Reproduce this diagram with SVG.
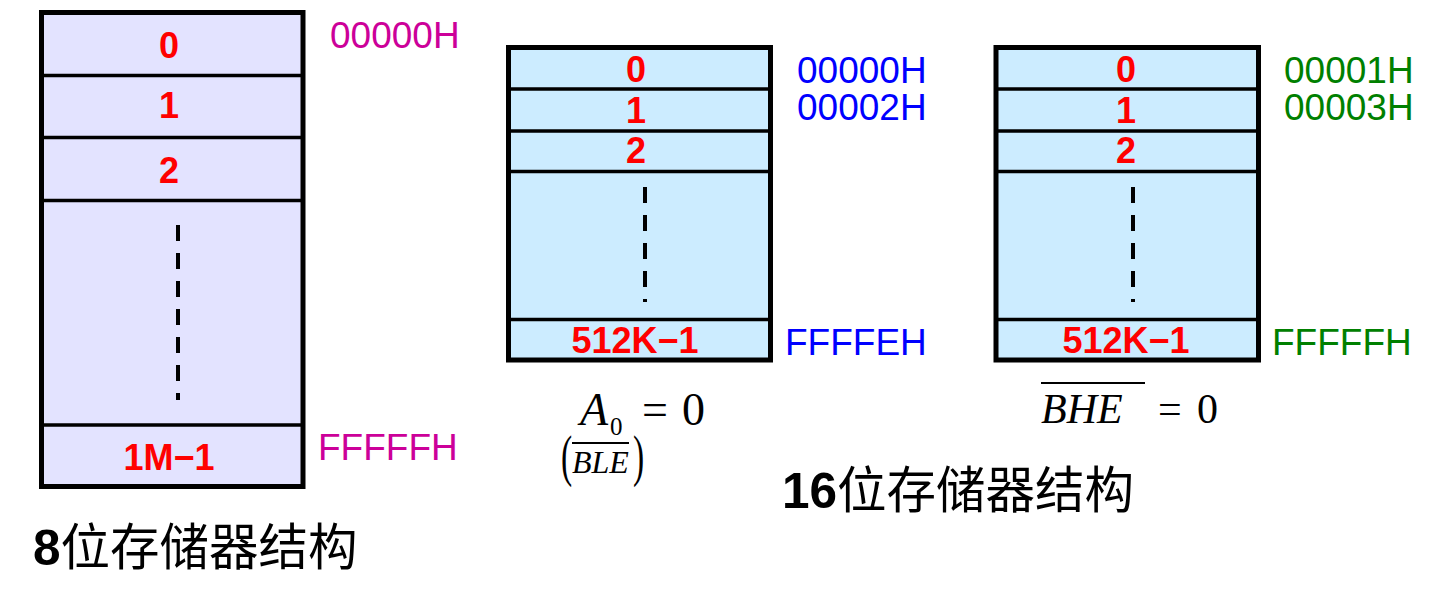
<svg xmlns="http://www.w3.org/2000/svg" width="1438" height="610" viewBox="0 0 1438 610">
<style>
.box{stroke:#000;stroke-width:5}
.div{stroke:#000;stroke-width:3.5}
.dash{stroke:#000;stroke-width:4;stroke-dasharray:16 12}
.cell{font-family:"Liberation Sans",Arial,sans-serif;font-weight:bold;font-size:36px;fill:#FF0000;text-anchor:middle}
.addr{font-family:"Liberation Sans",Arial,sans-serif;font-size:37px}
.mag{fill:#CC0099}.blu{fill:#0000FF}.grn{fill:#008000}
.math{font-family:"Liberation Serif","Times New Roman",serif;fill:#000}
.it{font-style:italic}
.cap{font-family:"Liberation Sans","Noto Sans CJK SC",sans-serif;font-size:49.5px;fill:#000}
.cjk{font-family:"Noto Sans CJK SC",sans-serif;font-weight:normal}
.ovl{stroke:#000;stroke-width:2}
</style>
<rect width="1438" height="610" fill="#fff"/>
<g id="mem8">
<rect class="box" x="41.5" y="12.5" width="261.5" height="474" fill="#E3E3FF"/>
<line class="div" x1="41.5" y1="75.5" x2="303" y2="75.5"/>
<line class="div" x1="41.5" y1="137.5" x2="303" y2="137.5"/>
<line class="div" x1="41.5" y1="200.5" x2="303" y2="200.5"/>
<line class="div" x1="41.5" y1="425" x2="303" y2="425"/>
<line class="dash" x1="178" y1="225" x2="178" y2="400"/>
<text class="cell" x="169" y="58">0</text>
<text class="cell" x="169" y="118">1</text>
<text class="cell" x="169" y="183">2</text>
<text class="cell" x="169" y="470">1M−1</text>
<text class="addr mag" x="330" y="48">00000H</text>
<text class="addr mag" x="318" y="460">FFFFFH</text>
<text class="cap" x="33" y="565"><tspan font-weight="bold">8</tspan><tspan class="cjk">位存储器结构</tspan></text>
</g>
<g id="mem16even">
<rect class="box" x="508.5" y="47.5" width="262" height="312.5" fill="#CCECFF"/>
<line class="div" x1="508.5" y1="89" x2="770.5" y2="89"/>
<line class="div" x1="508.5" y1="131" x2="770.5" y2="131"/>
<line class="div" x1="508.5" y1="171.5" x2="770.5" y2="171.5"/>
<line class="div" x1="508.5" y1="319.5" x2="770.5" y2="319.5"/>
<line class="dash" x1="645" y1="187" x2="645" y2="302"/>
<text class="cell" x="636" y="82">0</text>
<text class="cell" x="636" y="123">1</text>
<text class="cell" x="636" y="163">2</text>
<text class="cell" x="635" y="353">512K−1</text>
<text class="addr blu" x="797" y="82.5">00000H</text>
<text class="addr blu" x="797" y="120">00002H</text>
<text class="addr blu" x="785" y="355">FFFFEH</text>
<text class="math it" x="580" y="425" font-size="46">A</text>
<text class="math" x="610" y="435" font-size="25">0</text>
<text class="math" x="642" y="425" font-size="46">=</text>
<text class="math" x="682" y="425" font-size="46">0</text>
<text class="math" font-size="56" transform="translate(561,475) scale(0.6,1)">(</text>
<text class="math it" x="572" y="473" font-size="32">BLE</text>
<line class="ovl" x1="572" y1="443" x2="629" y2="443"/>
<text class="math" font-size="56" transform="translate(633,475) scale(0.6,1)">)</text>
</g>
<g id="mem16odd">
<rect class="box" x="996" y="47.5" width="262.5" height="312.5" fill="#CCECFF"/>
<line class="div" x1="996" y1="89" x2="1258.5" y2="89"/>
<line class="div" x1="996" y1="131" x2="1258.5" y2="131"/>
<line class="div" x1="996" y1="171.5" x2="1258.5" y2="171.5"/>
<line class="div" x1="996" y1="319.5" x2="1258.5" y2="319.5"/>
<line class="dash" x1="1133" y1="187" x2="1133" y2="302"/>
<text class="cell" x="1126" y="82">0</text>
<text class="cell" x="1126" y="123">1</text>
<text class="cell" x="1126" y="163">2</text>
<text class="cell" x="1126" y="353">512K−1</text>
<text class="addr grn" x="1284" y="82.5">00001H</text>
<text class="addr grn" x="1284" y="120">00003H</text>
<text class="addr grn" x="1272" y="355">FFFFFH</text>
<text class="math it" x="1041" y="423" font-size="42">BHE</text>
<line class="ovl" x1="1041" y1="383" x2="1145" y2="383"/>
<text class="math" x="1158" y="423" font-size="42">=</text>
<text class="math" x="1197" y="423" font-size="42">0</text>
</g>
<g id="caption16">
<text class="cap" x="782" y="508"><tspan font-weight="bold">16</tspan><tspan class="cjk">位存储器结构</tspan></text>
</g>
<g id="connectors"/>
</svg>
